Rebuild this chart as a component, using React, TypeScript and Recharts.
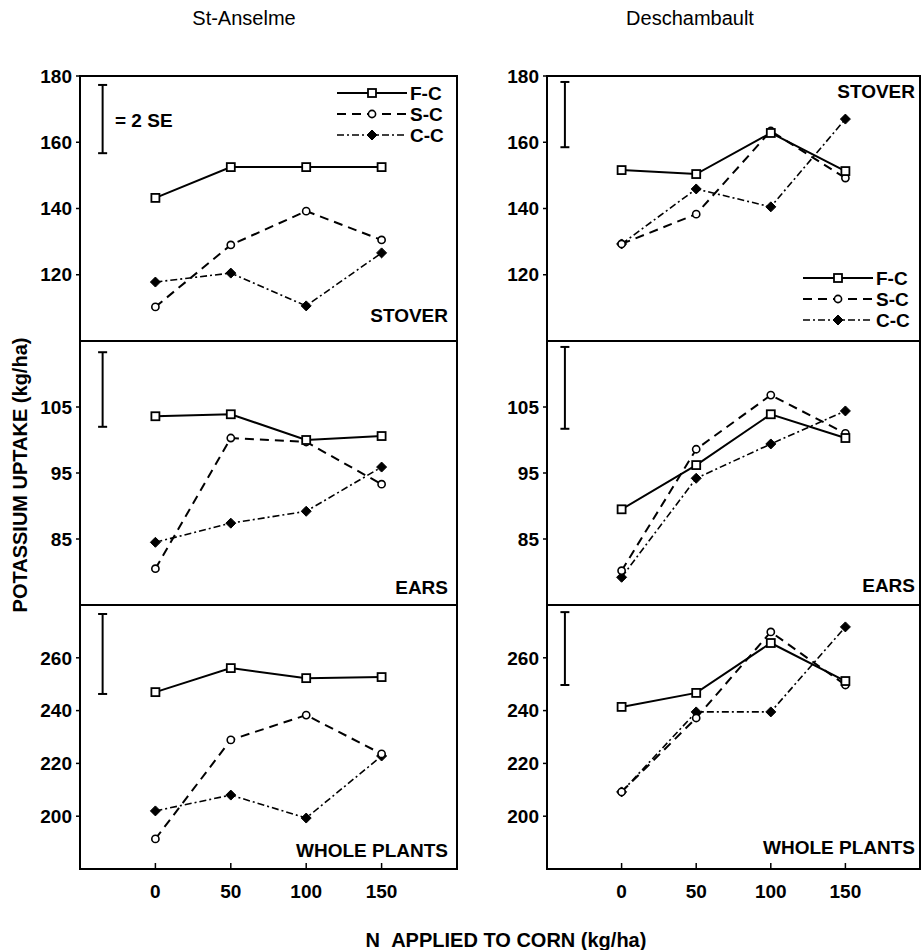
import React from "react";
import { LineChart, Line, XAxis, YAxis, ReferenceArea, ReferenceLine } from "recharts";

// ── data (kg/ha K uptake vs N rate) ───────────────────────────────
const N_RATES = [0, 50, 100, 150];

// St-Anselme
const STA_STOVER_FC = [143.2, 152.5, 152.5, 152.5];
const STA_STOVER_SC = [110.3, 129, 139.2, 130.5];
const STA_STOVER_CC = [117.8, 120.5, 110.6, 126.6];
const STA_EARS_FC = [103.6, 103.9, 100, 100.6];
const STA_EARS_SC = [80.5, 100.3, 99.7, 93.3];
const STA_EARS_CC = [84.5, 87.4, 89.2, 95.9];
const STA_WHOLE_FC = [247, 256.1, 252.3, 252.7];
const STA_WHOLE_SC = [191.4, 228.9, 238.3, 223.6];
const STA_WHOLE_CC = [202, 208, 199.3, 222.8];

// Deschambault
const DES_STOVER_FC = [151.6, 150.4, 162.8, 151.3];
const DES_STOVER_SC = [129.3, 138.3, 163.4, 149.2];
const DES_STOVER_CC = [129.3, 145.9, 140.5, 167];
const DES_EARS_FC = [89.5, 96.2, 103.9, 100.3];
const DES_EARS_SC = [80.2, 98.6, 106.8, 101];
const DES_EARS_CC = [79.2, 94.2, 99.4, 104.4];
const DES_WHOLE_FC = [241.4, 246.7, 265.6, 251.2];
const DES_WHOLE_SC = [209.2, 237.2, 269.8, 249.7];
const DES_WHOLE_CC = [209.2, 239.5, 239.5, 271.7];

const X_DOMAIN = [-50, 200];
const STOVER_DOMAIN = [100, 180];
const STOVER_TICKS = [120, 140, 160, 180];
const EARS_DOMAIN = [75, 115];
const EARS_TICKS = [85, 95, 105];
const WHOLE_DOMAIN = [180, 280];
const WHOLE_TICKS = [200, 220, 240, 260];

// 2 SE bars: [low, high]
const STA_SE = [[156.7, 177.3], [102, 113.3], [246.3, 276.6]];
const DES_SE = [[158.5, 178.2], [101.7, 114.1], [249.7, 277.3]];
const STA_SE_X = -35;
const DES_SE_X = -38;

const FONT = "'Liberation Sans', Arial, Helvetica, sans-serif";

// ── markers ──────────────────────────────────────────────────────
function marker(kind: string, cx: number, cy: number, key?: string) {
  if (kind === "square")
    return <rect key={key} x={cx - 4} y={cy - 4} width={8} height={8} fill="#fff" stroke="#000" strokeWidth={1.8} />;
  if (kind === "circle")
    return <circle key={key} cx={cx} cy={cy} r={3.6} fill="#fff" stroke="#000" strokeWidth={1.6} />;
  return <polygon key={key} points={`${cx},${cy - 5} ${cx + 5},${cy} ${cx},${cy + 5} ${cx - 5},${cy}`} fill="#000" stroke="#000" strokeWidth={1} />;
}

const SERIES = [
  { key: "cc", name: "C-C", dash: "7 3 2 3", width: 1.6, kind: "diamond" },
  { key: "sc", name: "S-C", dash: "9 6", width: 2, kind: "circle" },
  { key: "fc", name: "F-C", dash: undefined, width: 2, kind: "square" },
];

interface PanelProps {
  fc: number[];
  sc: number[];
  cc: number[];
  domain: number[];
  ticks: number[];
  se: number[];
  seX: number;
  left: number;
  top: number;
  plotW: number;
  plotH: number;
  bottom?: boolean;
}

function Panel({ fc, sc, cc, domain, ticks, se, seX, left, top, plotW, plotH, bottom }: PanelProps) {
  const data = N_RATES.map((n, i) => ({ n, fc: fc[i], sc: sc[i], cc: cc[i] }));
  const mTop = 10;
  const xh = bottom ? 40 : 0;
  return (
    <div style={{ position: "absolute", left, top: top - mTop }}>
      <LineChart width={80 + plotW + 2} height={mTop + plotH + xh + 2} data={data} margin={{ top: mTop, right: 2, bottom: 2, left: 0 }}>
        <XAxis
          dataKey="n"
          type="number"
          domain={X_DOMAIN}
          ticks={N_RATES}
          interval={0}
          allowDataOverflow
          axisLine={false}
          tickLine={{ stroke: "#000", strokeWidth: 1.5 }}
          tickSize={-6}
          tickMargin={22}
          height={xh}
          tick={bottom ? { fill: "#000", fontSize: 19, fontWeight: 700, fontFamily: FONT } : false}
        />
        <YAxis
          type="number"
          domain={domain}
          ticks={ticks}
          interval={0}
          allowDataOverflow
          axisLine={false}
          tickLine={{ stroke: "#000", strokeWidth: 1.5 }}
          tickSize={4}
          tickMargin={4}
          width={80}
          tick={{ fill: "#000", fontSize: 19, fontWeight: 700, fontFamily: FONT }}
        />
        <ReferenceArea x1={X_DOMAIN[0]} x2={X_DOMAIN[1]} y1={domain[0]} y2={domain[1]} fill="none" fillOpacity={0} stroke="#000" strokeWidth={2} ifOverflow="visible" />
        <ReferenceLine segment={[{ x: seX, y: se[0] }, { x: seX, y: se[1] }]} stroke="#000" strokeWidth={2} ifOverflow="visible" />
        <ReferenceLine segment={[{ x: seX - 3, y: se[0] }, { x: seX + 3, y: se[0] }]} stroke="#000" strokeWidth={2} ifOverflow="visible" />
        <ReferenceLine segment={[{ x: seX - 3, y: se[1] }, { x: seX + 3, y: se[1] }]} stroke="#000" strokeWidth={2} ifOverflow="visible" />
        {SERIES.map((s) => (
          <Line
            key={s.key}
            type="linear"
            dataKey={s.key}
            stroke="#000"
            strokeWidth={s.width}
            strokeDasharray={s.dash}
            isAnimationActive={false}
            dot={(p: any) => marker(s.kind, p.cx, p.cy, `${s.key}-${p.index}`)}
            activeDot={false}
          />
        ))}
      </LineChart>
    </div>
  );
}

function LegendBox({ x, y }: { x: number; y: number }) {
  const order = ["fc", "sc", "cc"].map((k) => SERIES.find((s) => s.key === k)!);
  return (
    <g>
      {order.map((s, i) => (
        <g key={s.key}>
          <line x1={x} y1={y + i * 21} x2={x + 70} y2={y + i * 21} stroke="#000" strokeWidth={s.width} strokeDasharray={s.dash} />
          {marker(s.kind, x + 35, y + i * 21)}
          <text x={x + 73} y={y + i * 21} dy="0.36em" fontSize={19} fontWeight={700}>{s.name}</text>
        </g>
      ))}
    </g>
  );
}

export default function App() {
  const L = 80;
  const R = 547;
  const LW = 377;
  const RW = 373;
  const rows = [
    { top: 76, h: 265 },
    { top: 341, h: 264 },
    { top: 605, h: 264 },
  ];
  return (
    <div style={{ position: "absolute", left: 0, top: 0, width: 921, height: 950, background: "#fff", fontFamily: FONT }}>
      {/* St-Anselme */}
      <Panel fc={STA_STOVER_FC} sc={STA_STOVER_SC} cc={STA_STOVER_CC} domain={STOVER_DOMAIN} ticks={STOVER_TICKS} se={STA_SE[0]} seX={STA_SE_X} left={L - 80} top={rows[0].top} plotW={LW} plotH={rows[0].h} />
      <Panel fc={STA_EARS_FC} sc={STA_EARS_SC} cc={STA_EARS_CC} domain={EARS_DOMAIN} ticks={EARS_TICKS} se={STA_SE[1]} seX={STA_SE_X} left={L - 80} top={rows[1].top} plotW={LW} plotH={rows[1].h} />
      <Panel fc={STA_WHOLE_FC} sc={STA_WHOLE_SC} cc={STA_WHOLE_CC} domain={WHOLE_DOMAIN} ticks={WHOLE_TICKS} se={STA_SE[2]} seX={STA_SE_X} left={L - 80} top={rows[2].top} plotW={LW} plotH={rows[2].h} bottom />
      {/* Deschambault */}
      <Panel fc={DES_STOVER_FC} sc={DES_STOVER_SC} cc={DES_STOVER_CC} domain={STOVER_DOMAIN} ticks={STOVER_TICKS} se={DES_SE[0]} seX={DES_SE_X} left={R - 80} top={rows[0].top} plotW={RW} plotH={rows[0].h} />
      <Panel fc={DES_EARS_FC} sc={DES_EARS_SC} cc={DES_EARS_CC} domain={EARS_DOMAIN} ticks={EARS_TICKS} se={DES_SE[1]} seX={DES_SE_X} left={R - 80} top={rows[1].top} plotW={RW} plotH={rows[1].h} />
      <Panel fc={DES_WHOLE_FC} sc={DES_WHOLE_SC} cc={DES_WHOLE_CC} domain={WHOLE_DOMAIN} ticks={WHOLE_TICKS} se={DES_SE[2]} seX={DES_SE_X} left={R - 80} top={rows[2].top} plotW={RW} plotH={rows[2].h} bottom />

      <svg width={921} height={950} style={{ position: "absolute", left: 0, top: 0, pointerEvents: "none" }} fontFamily={FONT} fill="#000">
        <text x={244} y={18} dy="0.36em" textAnchor="middle" fontSize={20}>St-Anselme</text>
        <text x={690} y={18} dy="0.36em" textAnchor="middle" fontSize={20}>Deschambault</text>
        <text x={20} y={475} dy="0.36em" textAnchor="middle" fontSize={20} fontWeight={700} transform="rotate(-90 20 475)">POTASSIUM UPTAKE (kg/ha)</text>
        <text x={506} y={940} dy="0.36em" textAnchor="middle" fontSize={20} fontWeight={700}>N{"\u00a0\u00a0"}APPLIED TO CORN (kg/ha)</text>

        <text x={115} y={120} dy="0.36em" fontSize={19} fontWeight={700}>= 2 SE</text>
        <LegendBox x={337} y={93} />
        <LegendBox x={803} y={278} />

        <text x={448} y={315} dy="0.36em" textAnchor="end" fontSize={19} fontWeight={700}>STOVER</text>
        <text x={448} y={587} dy="0.36em" textAnchor="end" fontSize={19} fontWeight={700}>EARS</text>
        <text x={448} y={850} dy="0.36em" textAnchor="end" fontSize={19} fontWeight={700}>WHOLE PLANTS</text>
        <text x={915} y={91} dy="0.36em" textAnchor="end" fontSize={19} fontWeight={700}>STOVER</text>
        <text x={915} y={585} dy="0.36em" textAnchor="end" fontSize={19} fontWeight={700}>EARS</text>
        <text x={915} y={847} dy="0.36em" textAnchor="end" fontSize={19} fontWeight={700}>WHOLE PLANTS</text>
      </svg>
    </div>
  );
}
